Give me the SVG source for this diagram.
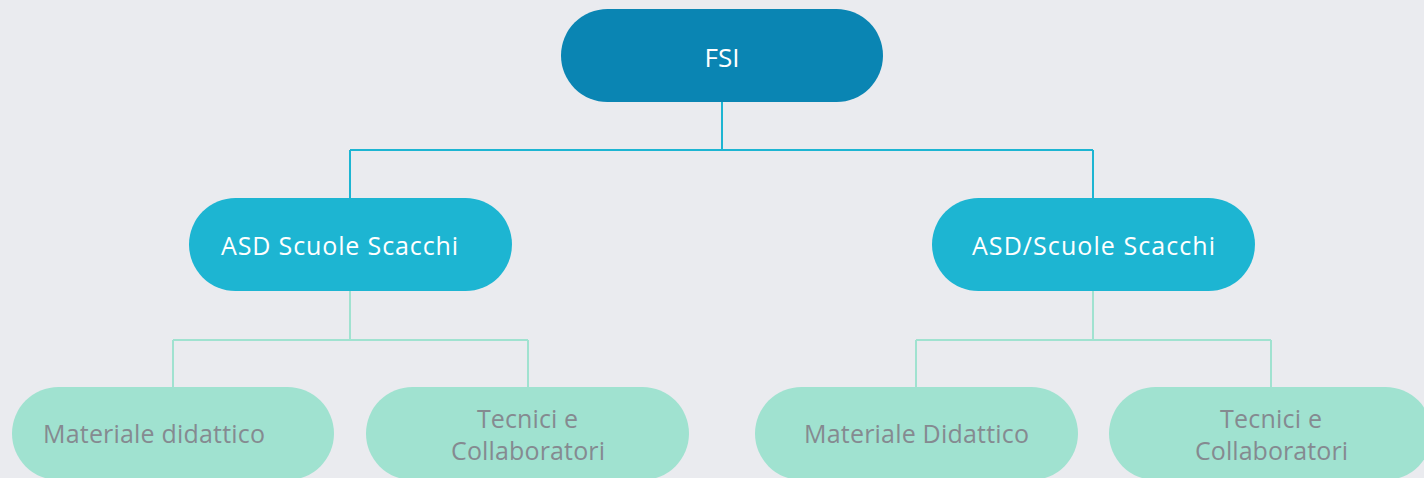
<svg xmlns="http://www.w3.org/2000/svg" width="1424" height="478" viewBox="0 0 1424 478">
<style>
.t{font-family:"Open Sans","Liberation Sans",sans-serif;font-size:25px}
.w{fill:#ffffff}
.g{fill:#858a90}
.top{fill:#0a85b3}
.mid{fill:#1db5d2}
.leaf{fill:#a0e2d0}
.c1{stroke:#1db5d2;stroke-width:2;fill:none}
.c2{stroke:#a0e2d0;stroke-width:2;fill:none}
</style>
<rect width="1424" height="478" fill="#eaebef"/>
<g id="connectors">
<path class="c1" d="M722 102V150M350 150H1093M350 150V198M1093 150V198"/>
<path class="c2" d="M350 291V340M173 340H528M173 340V387M528 340V387"/>
<path class="c2" d="M1093 291V340M916 340H1271M916 340V387M1271 340V387"/>
</g>
<g id="fsi">
<rect class="top" x="561" y="9" width="322" height="93" rx="46.5"/>
<text class="t w" x="722" y="67" text-anchor="middle" style="font-size:26px">FSI</text>
</g>
<g id="asd-left">
<rect class="mid" x="189" y="198" width="323" height="93" rx="46.5"/>
<text class="t w" x="221" y="255" textLength="237" lengthAdjust="spacing">ASD Scuole Scacchi</text>
</g>
<g id="asd-right">
<rect class="mid" x="932" y="198" width="323" height="93" rx="46.5"/>
<text class="t w" x="972" y="255" textLength="243" lengthAdjust="spacing">ASD/Scuole Scacchi</text>
</g>
<g id="materiale-left">
<rect class="leaf" x="12" y="387" width="322" height="93" rx="46.5"/>
<text class="t g" x="43" y="443" textLength="222" lengthAdjust="spacing">Materiale didattico</text>
</g>
<g id="tecnici-left">
<rect class="leaf" x="366" y="387" width="323" height="93" rx="46.5"/>
<text class="t g" x="477" y="428" textLength="101" lengthAdjust="spacing">Tecnici e</text>
<text class="t g" x="451" y="460" textLength="154" lengthAdjust="spacing">Collaboratori</text>
</g>
<g id="materiale-right">
<rect class="leaf" x="755" y="387" width="323" height="93" rx="46.5"/>
<text class="t g" x="804" y="443" textLength="225" lengthAdjust="spacing">Materiale Didattico</text>
</g>
<g id="tecnici-right">
<rect class="leaf" x="1109" y="387" width="323" height="93" rx="46.5"/>
<text class="t g" x="1220" y="428" textLength="102" lengthAdjust="spacing">Tecnici e</text>
<text class="t g" x="1195" y="460" textLength="153" lengthAdjust="spacing">Collaboratori</text>
</g>
</svg>
